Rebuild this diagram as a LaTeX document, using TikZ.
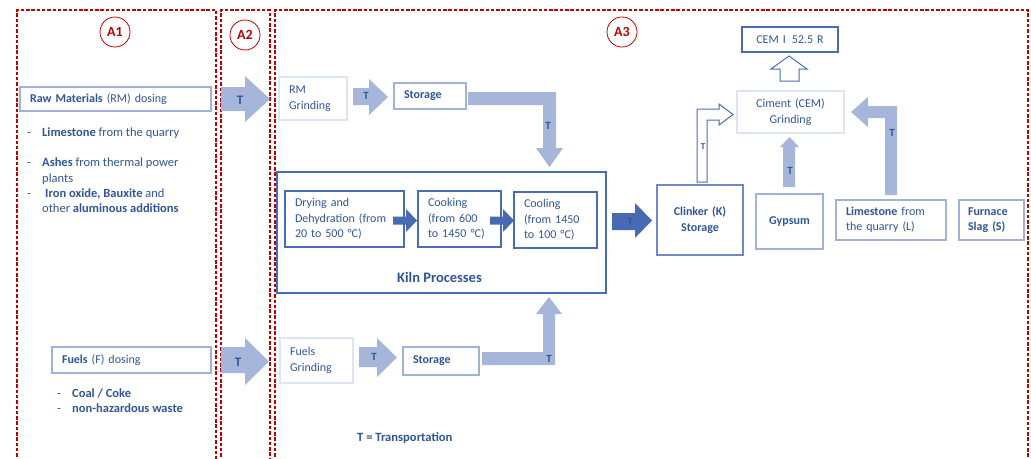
\documentclass[tikz,border=0pt]{standalone}
\usepackage{fontspec}
\setmainfont{Carlito}
\definecolor{txtblue}{RGB}{47,85,151}
\definecolor{medblue}{RGB}{74,108,180}
\definecolor{lightline}{RGB}{160,178,216}
\definecolor{faintline}{RGB}{222,229,242}
\definecolor{lightarrow}{RGB}{166,182,218}
\definecolor{darkarrow}{RGB}{72,106,178}
\definecolor{zonered}{RGB}{192,0,0}

\begin{document}
\begin{tikzpicture}[x=1pt,y=-1pt,
    box/.style={draw=medblue, line width=1.2pt, rectangle, inner xsep=10pt, inner ysep=0pt,
        align=left, text=txtblue, font=\fontsize{12}{15.5}\selectfont},
    lightbox/.style={box, draw=lightline, line width=1.6pt},
    faintbox/.style={box, draw=faintline, line width=2.2pt},
    txt/.style={anchor=base west, inner sep=0pt, text=txtblue, font=\fontsize{12.5}{15}\selectfont},
    tlabel/.style={inner sep=0pt, text=txtblue, font=\bfseries\fontsize{11}{12}\selectfont},
    zone/.style={draw=zonered, line width=1.2pt, dash pattern=on 3.5pt off 1.8pt},
    zonetag/.style={circle, draw=zonered, line width=0.8pt, minimum size=30pt, inner sep=0pt,
        text=zonered, font=\bfseries\fontsize{14}{16}\selectfont}]
    \useasboundingbox (0,0) rectangle (1031,458);

    % zones
    \draw[zone] (17,462) -- (17,10) -- (216,10) -- (216,462);
    \draw[zone] (221,462) -- (221,10) -- (270,10) -- (270,462);
    \draw[zone] (275,462) -- (275,10) -- (1028,10) -- (1028,462);
    \node[zonetag] (tagA1) at (115,32) {A1};
    \node[zonetag] (tagA2) at (245,35) {A2};
    \node[zonetag] (tagA3) at (622,32) {A3};

    % A1: dosing
    \node[lightbox, minimum width=191pt, text width=171pt, minimum height=24pt] (rmdose) at (115.5,99)
        {\textbf{Raw Materials} (RM) dosing};
    \node[txt] (d1) at (27,136) {-};
    \node[txt] (rm1) at (42,136) {\textbf{Limestone} from the quarry};
    \node[txt] (d2) at (27,166) {-};
    \node[txt] (rm2) at (42,166) {\textbf{Ashes} from thermal power};
    \node[txt] (rm2b) at (42,182) {plants};
    \node[txt] (d3) at (27,197) {-};
    \node[txt] (rm3) at (45,197) {\textbf{Iron oxide, Bauxite} and};
    \node[txt] (rm3b) at (42,212) {other \textbf{aluminous additions}};

    \node[lightbox, minimum width=159pt, text width=139pt, minimum height=26pt] (fueldose) at (131.5,360)
        {\textbf{Fuels} (F) dosing};
    \node[txt] (d4) at (57,397) {-};
    \node[txt] (f1) at (72,397) {\textbf{Coal / Coke}};
    \node[txt] (d5) at (57,412) {-};
    \node[txt] (f2) at (72,412) {\textbf{non-hazardous waste}};

    % A2: transport
    \fill[lightarrow] (221,87) -- (245,87) -- (245,76) -- (270,99) -- (245,122) -- (245,111) -- (221,111) -- cycle;
    \node[tlabel, font=\bfseries\fontsize{13}{14}\selectfont] (t1) at (240,100) {T};
    \fill[lightarrow] (221,347) -- (245,347) -- (245,338) -- (269,361.5) -- (245,385) -- (245,373) -- (221,373) -- cycle;
    \node[tlabel, font=\bfseries\fontsize{13}{14}\selectfont] (t2) at (238,362) {T};

    % A3: raw material line
    \node[faintbox, minimum width=68pt, text width=48pt, minimum height=43pt] (rmgrind) at (313,98.5)
        {RM\\Grinding};
    \fill[lightarrow] (353,88) -- (369,88) -- (369,79) -- (388,97) -- (369,115) -- (369,105) -- (353,105) -- cycle;
    \node[tlabel] (t3) at (366,96) {T};
    \node[lightbox, minimum width=72pt, text width=52pt, minimum height=26pt] (rmstore) at (430,96)
        {\textbf{Storage}};
    \fill[lightarrow] (468,92) -- (556,92) -- (556,148) -- (563,148) -- (549.5,167) -- (536,148) -- (543,148)
        -- (543,105) -- (468,105) -- cycle;
    \node[tlabel] (t4) at (548,126) {T};

    % kiln
    \node[box, minimum width=329pt, minimum height=121pt] (kiln) at (441.5,232.5) {};
    \node[text=txtblue, inner sep=0pt, font=\bfseries\fontsize{14.5}{16}\selectfont] (kilnlbl) at (439.5,277)
        {Kiln Processes};
    \node[box, minimum width=119pt, text width=99pt, minimum height=56pt] (dry) at (344.5,219)
        {Drying and\\Dehydration (from\\20 to 500 °C)};
    \node[box, minimum width=83pt, text width=63pt, minimum height=56pt] (cook) at (459.5,219)
        {Cooking\\(from 600\\to 1450 °C)};
    \node[box, minimum width=83pt, text width=63pt, minimum height=56pt] (cool) at (555.5,220)
        {Cooling\\(from 1450\\to 100 °C)};
    \fill[darkarrow] (393,216.5) -- (406,216.5) -- (406,209) -- (417,220.5) -- (406,232) -- (406,224.5)
        -- (393,224.5) -- cycle;
    \fill[darkarrow] (490,216.5) -- (503,216.5) -- (503,209) -- (514,220.5) -- (503,232) -- (503,224.5)
        -- (490,224.5) -- cycle;

    % fuels line
    \node[faintbox, minimum width=73pt, text width=53pt, minimum height=45pt] (fuelgrind) at (316.5,360.5)
        {Fuels\\Grinding};
    \fill[lightarrow] (359,347) -- (377,347) -- (377,338) -- (397,357.5) -- (377,377) -- (377,367) -- (359,367) -- cycle;
    \node[tlabel] (t5) at (374,357) {T};
    \node[lightbox, minimum width=76pt, text width=56pt, minimum height=28pt] (fuelstore) at (441,361)
        {\textbf{Storage}};
    \fill[lightarrow] (482,352) -- (543,352) -- (543,314) -- (536,314) -- (549,297) -- (562,314) -- (555,314)
        -- (555,365) -- (482,365) -- cycle;
    \node[tlabel] (t6) at (549,359) {T};
    \node[txt, font=\bfseries\fontsize{12.6}{15}\selectfont] (legend) at (357,441) {T = Transportation};

    % clinker and cement
    \fill[darkarrow] (612,213) -- (635,213) -- (635,203) -- (652,220.5) -- (635,238) -- (635,230) -- (612,230) -- cycle;
    \node[tlabel] (t7) at (630,222) {T};
    \node[box, draw=medblue!80, line width=1.8pt, align=center, minimum width=86pt, text width=66pt,
        minimum height=70pt] (clinker) at (700,220) {\textbf{Clinker (K)}\\\textbf{Storage}};
    \node[lightbox, align=center, minimum width=67pt, text width=47pt, minimum height=55pt] (gypsum)
        at (789.5,221.5) {\textbf{Gypsum}};
    \node[lightbox, minimum width=110pt, text width=90pt, minimum height=40pt] (limest) at (891,220)
        {\textbf{Limestone} from\\the quarry (L)};
    \node[lightbox, minimum width=65pt, text width=47pt, inner xsep=9pt, minimum height=40pt] (slag)
        at (991.5,220) {\textbf{Furnace}\\\textbf{Slag (S)}};
    \node[faintbox, align=center, minimum width=107pt, text width=87pt, minimum height=42pt] (cemgrind)
        at (790.5,112) {Ciment (CEM)\\Grinding};
    \node[box, align=center, minimum width=96pt, text width=76pt, minimum height=25pt] (cemout)
        at (790,39.5) {CEM I\,\ 52.5 R};

    \draw[medblue, line width=1pt, line join=miter] (697,182) -- (697,109) -- (719,109) -- (719,104)
        -- (733,114.5) -- (719,125) -- (719,120) -- (707,120) -- (707,182) -- cycle;
    \node[tlabel, font=\bfseries\fontsize{9}{10}\selectfont] (t8) at (703,147) {T};
    \fill[lightarrow] (783,187) -- (783,147) -- (780,147) -- (789.5,137) -- (799,147) -- (795,147)
        -- (795,187) -- cycle;
    \node[tlabel] (t9) at (790,171) {T};
    \fill[lightarrow] (885,195) -- (885,118) -- (868,118) -- (868,127) -- (851,112) -- (868,97) -- (868,106)
        -- (897,106) -- (897,195) -- cycle;
    \node[tlabel] (t10) at (892,133) {T};
    \draw[medblue, line width=1pt, line join=miter] (780,81) -- (780,69) -- (771,69) -- (789,56) -- (807,69)
        -- (799,69) -- (799,81) -- cycle;
\end{tikzpicture}
\end{document}
